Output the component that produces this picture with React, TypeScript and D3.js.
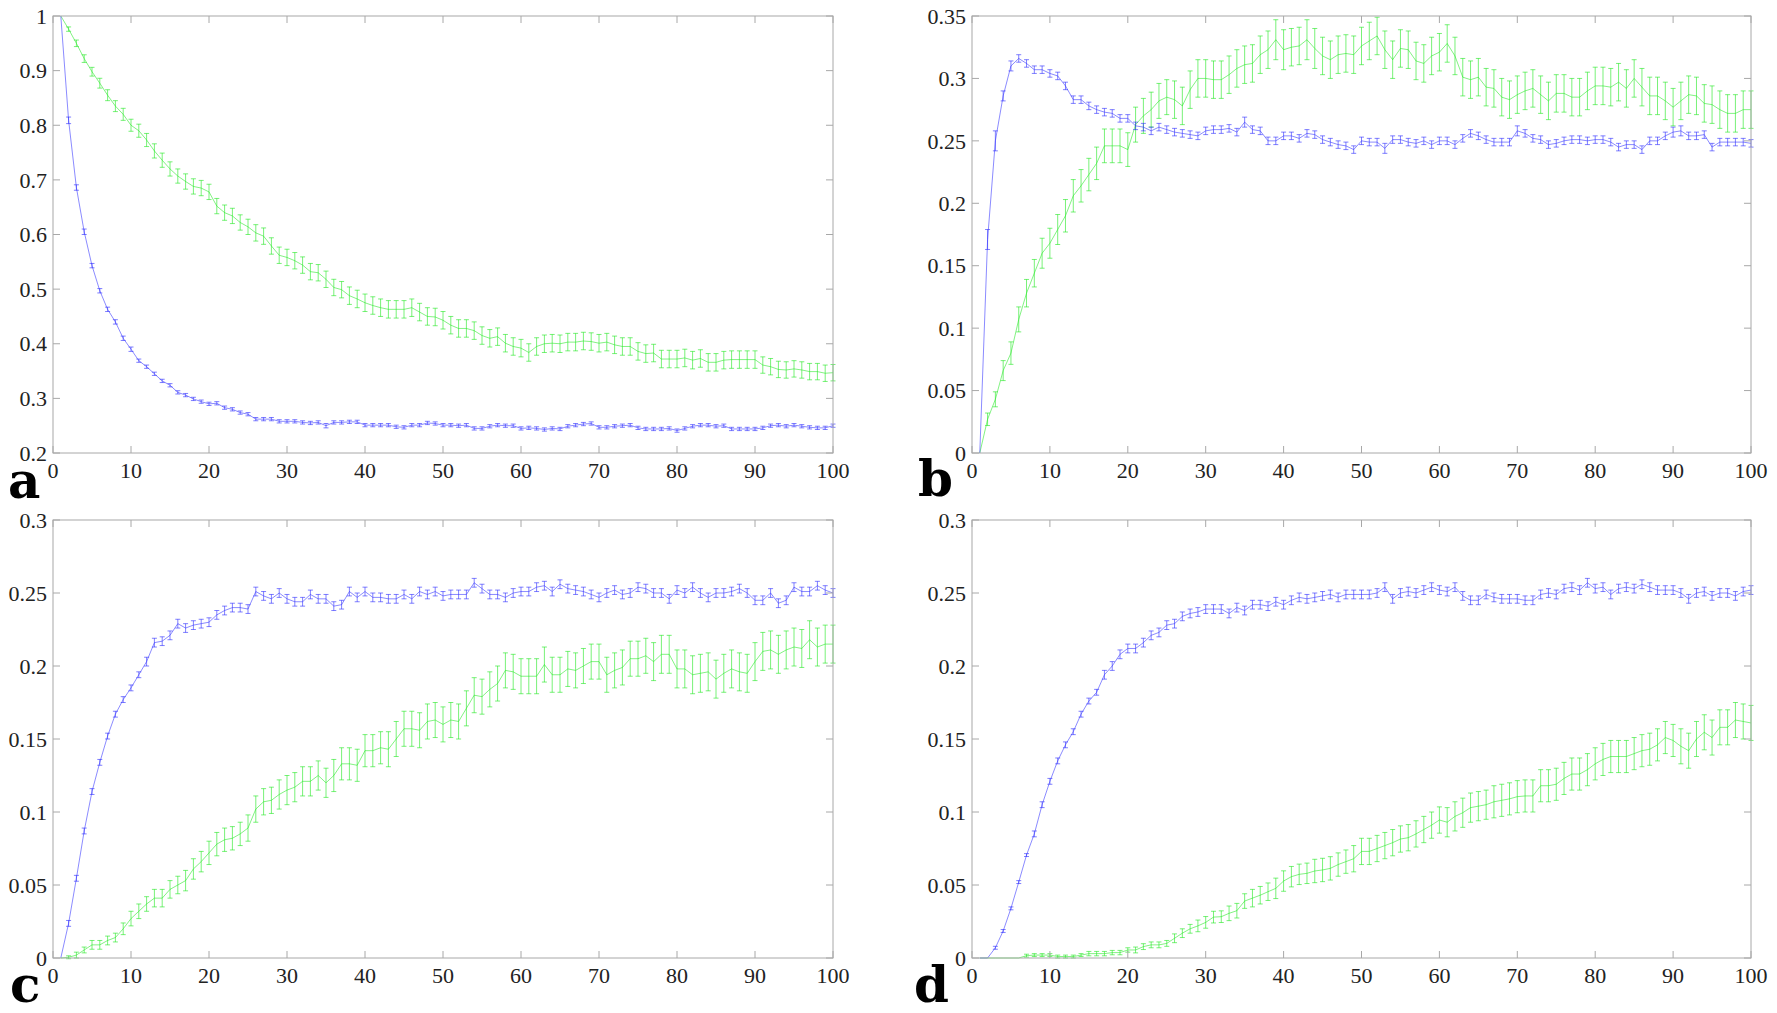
import React from "react";
import * as d3 from "d3";

// ---------- data (x = 1..100) ----------
const xSteps = d3.range(1, 101);
const xTicks = [0, 10, 20, 30, 40, 50, 60, 70, 80, 90, 100];

const aYTicks = [0.2, 0.3, 0.4, 0.5, 0.6, 0.7, 0.8, 0.9, 1];
const bYTicks = [0, 0.05, 0.1, 0.15, 0.2, 0.25, 0.3, 0.35];
const cYTicks = [0, 0.05, 0.1, 0.15, 0.2, 0.25, 0.3];
const dYTicks = [0, 0.05, 0.1, 0.15, 0.2, 0.25, 0.3];

const aGreen = [
  1.0, 0.976, 0.95, 0.922, 0.898, 0.877, 0.855, 0.835, 0.82, 0.8,
  0.79, 0.773, 0.753, 0.736, 0.72, 0.707, 0.697, 0.688, 0.685, 0.678,
  0.652, 0.64, 0.634, 0.622, 0.614, 0.603, 0.597, 0.579, 0.562, 0.558,
  0.552, 0.544, 0.532, 0.53, 0.518, 0.503, 0.499, 0.488, 0.482, 0.475,
  0.47, 0.466, 0.463, 0.463, 0.463, 0.466, 0.458, 0.45, 0.449, 0.443,
  0.434, 0.428, 0.428, 0.424, 0.415, 0.41, 0.413, 0.401, 0.395, 0.392,
  0.384, 0.395, 0.4, 0.401, 0.4, 0.403, 0.403, 0.405, 0.404, 0.401,
  0.403, 0.398, 0.395, 0.395, 0.386, 0.382, 0.383, 0.372, 0.372, 0.372,
  0.374, 0.37, 0.373, 0.366, 0.366, 0.37, 0.371, 0.371, 0.371, 0.371,
  0.361, 0.358, 0.353, 0.352, 0.354, 0.352, 0.349, 0.349, 0.346, 0.347,
];
const aGreenErr = [
  0, 0.004, 0.006, 0.007, 0.008, 0.009, 0.01, 0.01, 0.011, 0.011,
  0.012, 0.012, 0.013, 0.013, 0.013, 0.013, 0.014, 0.014, 0.014, 0.014,
  0.014, 0.014, 0.014, 0.014, 0.014, 0.015, 0.015, 0.015, 0.015, 0.015,
  0.015, 0.015, 0.015, 0.015, 0.015, 0.015, 0.015, 0.016, 0.016, 0.016,
  0.016, 0.016, 0.016, 0.016, 0.016, 0.016, 0.016, 0.016, 0.016, 0.016,
  0.016, 0.016, 0.016, 0.016, 0.016, 0.016, 0.016, 0.016, 0.016, 0.016,
  0.016, 0.016, 0.016, 0.016, 0.016, 0.016, 0.016, 0.016, 0.016, 0.016,
  0.016, 0.016, 0.016, 0.016, 0.016, 0.016, 0.016, 0.016, 0.016, 0.016,
  0.016, 0.016, 0.016, 0.016, 0.016, 0.016, 0.016, 0.016, 0.016, 0.016,
  0.015, 0.015, 0.015, 0.015, 0.015, 0.015, 0.015, 0.015, 0.015, 0.015,
];
const aBlue = [
  1.0, 0.809, 0.686, 0.605, 0.543, 0.497, 0.463, 0.44, 0.41, 0.39,
  0.369, 0.358, 0.345, 0.332, 0.324, 0.311, 0.306, 0.299, 0.294, 0.29,
  0.291, 0.283, 0.28, 0.274, 0.271, 0.262, 0.262, 0.262, 0.258, 0.258,
  0.258, 0.256, 0.255, 0.256, 0.25, 0.256, 0.256, 0.257, 0.257, 0.251,
  0.251, 0.251, 0.251, 0.248, 0.247, 0.251, 0.251, 0.255, 0.254, 0.251,
  0.251, 0.25, 0.251, 0.245, 0.245, 0.249, 0.251, 0.25, 0.25, 0.245,
  0.246, 0.245, 0.243, 0.245, 0.244, 0.249, 0.251, 0.253, 0.254, 0.247,
  0.247, 0.249, 0.25, 0.251, 0.246, 0.244, 0.244, 0.244, 0.245, 0.241,
  0.245, 0.249, 0.251, 0.251, 0.249, 0.25, 0.244, 0.244, 0.244, 0.244,
  0.246, 0.25, 0.251, 0.249, 0.251, 0.249, 0.247, 0.246, 0.246, 0.25,
];
const aBlueErr = [
  0, 0.006, 0.005, 0.005, 0.004, 0.004, 0.004, 0.004, 0.004, 0.004,
  0.003, 0.003, 0.003, 0.003, 0.003, 0.003, 0.003, 0.003, 0.003, 0.003,
  0.003, 0.003, 0.003, 0.003, 0.003, 0.003, 0.003, 0.003, 0.003, 0.003,
  0.003, 0.003, 0.003, 0.003, 0.004, 0.003, 0.003, 0.003, 0.003, 0.003,
  0.003, 0.003, 0.003, 0.003, 0.003, 0.003, 0.003, 0.003, 0.003, 0.003,
  0.003, 0.003, 0.003, 0.003, 0.003, 0.003, 0.003, 0.003, 0.003, 0.003,
  0.003, 0.003, 0.003, 0.003, 0.003, 0.003, 0.003, 0.003, 0.003, 0.003,
  0.003, 0.003, 0.003, 0.003, 0.003, 0.003, 0.003, 0.003, 0.003, 0.003,
  0.003, 0.003, 0.003, 0.003, 0.003, 0.003, 0.003, 0.003, 0.003, 0.003,
  0.003, 0.003, 0.003, 0.003, 0.003, 0.003, 0.003, 0.003, 0.003, 0.003,
];

const bBlue = [
  0, 0.171, 0.25, 0.286, 0.31, 0.316, 0.312, 0.307, 0.307, 0.304,
  0.302, 0.294, 0.283, 0.283, 0.278, 0.275, 0.273, 0.272, 0.268, 0.268,
  0.262, 0.261, 0.258, 0.261, 0.259, 0.257, 0.256, 0.255, 0.254, 0.258,
  0.259, 0.259, 0.26, 0.257, 0.265, 0.259, 0.258, 0.25, 0.25, 0.254,
  0.254, 0.252, 0.256, 0.255, 0.251, 0.249, 0.247, 0.246, 0.243, 0.25,
  0.249, 0.249, 0.244, 0.251, 0.251, 0.249, 0.248, 0.25, 0.247, 0.25,
  0.25, 0.247, 0.252, 0.256, 0.254, 0.251, 0.249, 0.249, 0.249, 0.258,
  0.256, 0.252, 0.251, 0.247, 0.248, 0.25, 0.251, 0.251, 0.25, 0.251,
  0.251, 0.249, 0.245, 0.247, 0.247, 0.243, 0.25, 0.25, 0.254, 0.257,
  0.258, 0.254, 0.254, 0.255, 0.245, 0.249, 0.249, 0.249, 0.249, 0.248,
];
const bBlueErr = [
  0, 0.008, 0.008, 0.004, 0.004, 0.003, 0.003, 0.003, 0.003, 0.003,
  0.003, 0.003, 0.003, 0.003, 0.003, 0.003, 0.003, 0.003, 0.003, 0.003,
  0.003, 0.003, 0.003, 0.003, 0.003, 0.003, 0.003, 0.003, 0.003, 0.003,
  0.003, 0.003, 0.003, 0.003, 0.004, 0.003, 0.003, 0.003, 0.003, 0.003,
  0.003, 0.003, 0.003, 0.003, 0.003, 0.003, 0.003, 0.003, 0.003, 0.003,
  0.003, 0.003, 0.004, 0.003, 0.003, 0.003, 0.003, 0.003, 0.003, 0.003,
  0.003, 0.003, 0.003, 0.003, 0.003, 0.003, 0.003, 0.003, 0.003, 0.004,
  0.003, 0.003, 0.003, 0.003, 0.003, 0.003, 0.003, 0.003, 0.003, 0.003,
  0.003, 0.003, 0.003, 0.003, 0.003, 0.003, 0.003, 0.003, 0.003, 0.004,
  0.004, 0.003, 0.003, 0.003, 0.003, 0.003, 0.003, 0.003, 0.003, 0.003,
];
const bGreen = [
  0, 0.027, 0.043, 0.066, 0.08, 0.107, 0.128, 0.144, 0.16, 0.168,
  0.179, 0.19, 0.206, 0.214, 0.223, 0.232, 0.246, 0.246, 0.246, 0.243,
  0.263, 0.27, 0.275, 0.282, 0.285, 0.283, 0.278, 0.291, 0.3, 0.3,
  0.299, 0.299, 0.303, 0.308, 0.311, 0.312, 0.319, 0.323, 0.331, 0.323,
  0.325, 0.326, 0.331, 0.324, 0.318, 0.315, 0.319, 0.32, 0.319, 0.326,
  0.33, 0.334, 0.323, 0.315, 0.324, 0.323, 0.314, 0.312, 0.318, 0.321,
  0.328, 0.318, 0.301, 0.299, 0.301, 0.293, 0.292, 0.285, 0.283, 0.287,
  0.29, 0.292, 0.287, 0.282, 0.288, 0.288, 0.285, 0.285, 0.29, 0.294,
  0.294, 0.293, 0.297, 0.292, 0.3, 0.293, 0.286, 0.286, 0.282, 0.277,
  0.282, 0.287, 0.286, 0.28, 0.279, 0.275, 0.272, 0.272, 0.275, 0.275,
];
const bGreenErr = [
  0, 0.005, 0.006, 0.008, 0.009, 0.01, 0.011, 0.011, 0.012, 0.012,
  0.012, 0.013, 0.013, 0.013, 0.013, 0.013, 0.0135, 0.0135, 0.0135, 0.0135,
  0.014, 0.014, 0.014, 0.014, 0.014, 0.015, 0.015, 0.015, 0.015, 0.015,
  0.015, 0.015, 0.015, 0.015, 0.015, 0.015, 0.015, 0.015, 0.016, 0.016,
  0.015, 0.015, 0.016, 0.016, 0.015, 0.015, 0.015, 0.015, 0.015, 0.015,
  0.015, 0.015, 0.015, 0.015, 0.015, 0.015, 0.015, 0.015, 0.015, 0.015,
  0.015, 0.015, 0.015, 0.015, 0.015, 0.015, 0.015, 0.015, 0.015, 0.015,
  0.015, 0.015, 0.015, 0.015, 0.015, 0.015, 0.015, 0.015, 0.015, 0.015,
  0.015, 0.015, 0.015, 0.015, 0.015, 0.015, 0.015, 0.015, 0.015, 0.015,
  0.015, 0.015, 0.015, 0.015, 0.015, 0.015, 0.015, 0.015, 0.015, 0.015,
];

const cBlue = [
  0, 0.0237, 0.0546, 0.087, 0.114, 0.134, 0.152, 0.167, 0.177, 0.185,
  0.194, 0.203, 0.216, 0.217, 0.221, 0.229, 0.226, 0.228, 0.229, 0.23,
  0.235, 0.238, 0.24, 0.24, 0.239, 0.251, 0.248, 0.246, 0.25, 0.246,
  0.244, 0.244, 0.249, 0.246, 0.246, 0.241, 0.242, 0.251, 0.247, 0.251,
  0.247, 0.247, 0.246, 0.246, 0.249, 0.246, 0.251, 0.249, 0.251, 0.248,
  0.249, 0.249, 0.249, 0.257, 0.253, 0.249, 0.249, 0.247, 0.25, 0.251,
  0.251, 0.254, 0.255, 0.251, 0.256, 0.253, 0.252, 0.251, 0.249, 0.247,
  0.25, 0.252, 0.249, 0.25, 0.254, 0.253, 0.25, 0.25, 0.246, 0.252,
  0.25, 0.254, 0.25, 0.247, 0.25, 0.25, 0.251, 0.253, 0.25, 0.245,
  0.245, 0.25, 0.243, 0.245, 0.254, 0.251, 0.251, 0.255, 0.252, 0.25,
];
const cBlueErr = [
  0, 0.002, 0.002, 0.002, 0.002, 0.002, 0.002, 0.002, 0.002, 0.002,
  0.002, 0.003, 0.003, 0.003, 0.003, 0.003, 0.003, 0.003, 0.003, 0.003,
  0.003, 0.003, 0.003, 0.003, 0.003, 0.003, 0.003, 0.003, 0.003, 0.003,
  0.003, 0.003, 0.003, 0.003, 0.003, 0.003, 0.003, 0.003, 0.003, 0.003,
  0.003, 0.003, 0.003, 0.003, 0.003, 0.003, 0.003, 0.003, 0.003, 0.003,
  0.003, 0.003, 0.003, 0.003, 0.003, 0.003, 0.003, 0.003, 0.003, 0.003,
  0.003, 0.003, 0.003, 0.003, 0.003, 0.003, 0.003, 0.003, 0.003, 0.003,
  0.003, 0.003, 0.003, 0.003, 0.003, 0.003, 0.003, 0.003, 0.003, 0.003,
  0.003, 0.003, 0.003, 0.003, 0.003, 0.003, 0.003, 0.003, 0.003, 0.003,
  0.003, 0.003, 0.003, 0.003, 0.003, 0.003, 0.003, 0.003, 0.003, 0.003,
];
const cGreen = [
  0, 0.0005, 0.002, 0.0055, 0.009, 0.009, 0.012, 0.014, 0.02, 0.027,
  0.032, 0.037, 0.041, 0.041, 0.047, 0.05, 0.053, 0.061, 0.066, 0.072,
  0.078, 0.081, 0.082, 0.085, 0.089, 0.102, 0.107, 0.108, 0.112, 0.115,
  0.117, 0.121, 0.121, 0.125, 0.12, 0.125, 0.133, 0.133, 0.132, 0.142,
  0.142, 0.144, 0.143, 0.15, 0.157, 0.157, 0.156, 0.162, 0.163, 0.16,
  0.163, 0.162, 0.171, 0.18, 0.179, 0.184, 0.188, 0.197, 0.196, 0.193,
  0.193, 0.193, 0.201, 0.194, 0.194, 0.198, 0.197, 0.2, 0.203, 0.203,
  0.194, 0.197, 0.199, 0.205, 0.205, 0.207, 0.203, 0.208, 0.208, 0.198,
  0.198, 0.194, 0.195, 0.196, 0.191, 0.195, 0.198, 0.196, 0.195, 0.203,
  0.21, 0.211, 0.208, 0.211, 0.213, 0.212, 0.218, 0.213, 0.215, 0.215,
];
const cGreenErr = [
  0, 0.001, 0.002, 0.002, 0.003, 0.003, 0.003, 0.003, 0.004, 0.005,
  0.005, 0.005, 0.006, 0.006, 0.006, 0.006, 0.007, 0.007, 0.007, 0.008,
  0.008, 0.008, 0.008, 0.008, 0.009, 0.009, 0.009, 0.009, 0.01, 0.01,
  0.01, 0.01, 0.01, 0.01, 0.01, 0.011, 0.011, 0.011, 0.011, 0.011,
  0.011, 0.011, 0.012, 0.012, 0.012, 0.012, 0.012, 0.012, 0.012, 0.012,
  0.012, 0.012, 0.012, 0.012, 0.012, 0.012, 0.012, 0.012, 0.012, 0.012,
  0.012, 0.012, 0.012, 0.012, 0.012, 0.012, 0.012, 0.012, 0.012, 0.012,
  0.012, 0.012, 0.012, 0.012, 0.012, 0.012, 0.013, 0.013, 0.013, 0.013,
  0.013, 0.013, 0.013, 0.013, 0.013, 0.013, 0.013, 0.013, 0.013, 0.013,
  0.013, 0.013, 0.013, 0.013, 0.013, 0.013, 0.013, 0.013, 0.013, 0.013,
];

const dBlue = [
  0, 0.0, 0.007, 0.0185, 0.034, 0.052, 0.0705, 0.085, 0.105, 0.121,
  0.135, 0.146, 0.155, 0.167, 0.176, 0.182, 0.194, 0.2, 0.208, 0.212,
  0.212, 0.216, 0.221, 0.223, 0.228, 0.229, 0.234, 0.236, 0.237, 0.239,
  0.239, 0.239, 0.236, 0.24, 0.238, 0.242, 0.242, 0.241, 0.244, 0.242,
  0.245, 0.247, 0.246, 0.247, 0.248, 0.249, 0.247, 0.249, 0.249, 0.249,
  0.249, 0.25, 0.254, 0.246, 0.25, 0.251, 0.25, 0.252, 0.254, 0.252,
  0.251, 0.254, 0.248, 0.245, 0.245, 0.249, 0.247, 0.246, 0.246, 0.246,
  0.245, 0.245, 0.249, 0.25, 0.249, 0.253, 0.254, 0.252, 0.257, 0.253,
  0.254, 0.249, 0.253, 0.254, 0.253, 0.256, 0.254, 0.252, 0.252, 0.252,
  0.25, 0.246, 0.25, 0.251, 0.248, 0.25, 0.25, 0.248, 0.251, 0.252,
];
const dBlueErr = [
  0, 0, 0.001, 0.001, 0.001, 0.001, 0.001, 0.002, 0.002, 0.002,
  0.002, 0.002, 0.002, 0.002, 0.002, 0.002, 0.003, 0.003, 0.003, 0.003,
  0.003, 0.003, 0.003, 0.003, 0.003, 0.003, 0.003, 0.003, 0.003, 0.003,
  0.003, 0.003, 0.003, 0.003, 0.003, 0.003, 0.003, 0.003, 0.003, 0.003,
  0.003, 0.003, 0.003, 0.003, 0.003, 0.003, 0.003, 0.003, 0.003, 0.003,
  0.003, 0.003, 0.003, 0.003, 0.003, 0.003, 0.003, 0.003, 0.003, 0.003,
  0.003, 0.003, 0.003, 0.003, 0.003, 0.003, 0.003, 0.003, 0.003, 0.003,
  0.003, 0.003, 0.003, 0.003, 0.003, 0.003, 0.003, 0.003, 0.003, 0.003,
  0.003, 0.003, 0.003, 0.003, 0.003, 0.003, 0.003, 0.003, 0.003, 0.003,
  0.003, 0.003, 0.003, 0.003, 0.003, 0.003, 0.003, 0.003, 0.003, 0.003,
];
const dGreen = [
  0, 0, 0, 0, 0, 0, 0.0016, 0.002, 0.002, 0.002,
  0.001, 0.001, 0.001, 0.002, 0.003, 0.003, 0.003, 0.0037, 0.0037, 0.0055,
  0.0055, 0.0078, 0.009, 0.009, 0.01, 0.0135, 0.017, 0.02, 0.022, 0.0244,
  0.028, 0.0283, 0.0306, 0.0324, 0.039, 0.041, 0.043, 0.0454, 0.0477, 0.0527,
  0.0557, 0.0573, 0.058, 0.0596, 0.0603, 0.0614, 0.064, 0.066, 0.068, 0.073,
  0.073, 0.075, 0.077, 0.079, 0.0815, 0.0824, 0.085, 0.088, 0.091, 0.0945,
  0.093, 0.097, 0.0995, 0.103, 0.104, 0.105, 0.107, 0.108, 0.109, 0.1105,
  0.111, 0.111, 0.118, 0.118, 0.119, 0.123, 0.126, 0.126, 0.129, 0.133,
  0.136, 0.138, 0.138, 0.138, 0.14, 0.142, 0.143, 0.146, 0.151, 0.149,
  0.145, 0.142, 0.15, 0.1546, 0.151, 0.158, 0.158, 0.163, 0.162, 0.161,
];
const dGreenErr = [
  0, 0, 0, 0, 0, 0, 0.001, 0.001, 0.001, 0.001,
  0.001, 0.001, 0.001, 0.001, 0.0015, 0.0015, 0.0015, 0.0015, 0.0015, 0.0015,
  0.002, 0.002, 0.002, 0.002, 0.002, 0.003, 0.003, 0.003, 0.004, 0.004,
  0.004, 0.004, 0.005, 0.005, 0.005, 0.006, 0.006, 0.006, 0.007, 0.007,
  0.007, 0.007, 0.007, 0.008, 0.008, 0.008, 0.008, 0.008, 0.009, 0.009,
  0.009, 0.009, 0.009, 0.009, 0.009, 0.009, 0.009, 0.009, 0.009, 0.009,
  0.01, 0.01, 0.01, 0.01, 0.01, 0.01, 0.011, 0.011, 0.011, 0.011,
  0.011, 0.011, 0.011, 0.011, 0.011, 0.011, 0.011, 0.011, 0.011, 0.011,
  0.011, 0.011, 0.011, 0.011, 0.011, 0.011, 0.011, 0.011, 0.011, 0.011,
  0.012, 0.012, 0.012, 0.012, 0.012, 0.012, 0.012, 0.012, 0.012, 0.012,
];

// ---------- styling ----------
const GREEN = "#1ee81e";
const BLUE = "#2b2bff";
const AXIS = "#a8a8a8";
const TICK_FONT = "Liberation Serif, Times New Roman, serif";
const LABEL_FONT = "DejaVu Serif, serif";

type Series = { values: number[]; err: number[]; color: string };

type PanelProps = {
  left: number;
  right: number;
  top: number;
  bottom: number;
  yDomain: [number, number];
  yTicks: number[];
  series: Series[];
  label: string;
  labelX: number;
  labelY: number;
};

const fmt = (v: number) => String(Math.round(v * 100) / 100);

function Panel(p: PanelProps) {
  const x = d3.scaleLinear().domain([0, 100]).range([p.left, p.right]);
  const y = d3.scaleLinear().domain(p.yDomain).range([p.bottom, p.top]);
  const line = d3
    .line<number>()
    .x((_, i) => x(xSteps[i]))
    .y((d) => y(d));
  const tl = 7;
  const cap = 2.5;
  return (
    <g>
      {p.series.map((s, si) => (
        <g key={si}>
          <path d={line(s.values) || ""} fill="none" stroke={s.color} strokeOpacity={0.55} strokeWidth={1} />
          {s.values.map((v, i) => {
            const e = s.err[i];
            if (!e) return null;
            const cx = x(xSteps[i]);
            const y1 = y(v - e);
            const y2 = y(v + e);
            return (
              <g key={i} stroke={s.color} strokeOpacity={0.6} strokeWidth={1}>
                <line x1={cx} x2={cx} y1={y1} y2={y2} />
                <line x1={cx - cap} x2={cx + cap} y1={y1} y2={y1} />
                <line x1={cx - cap} x2={cx + cap} y1={y2} y2={y2} />
              </g>
            );
          })}
        </g>
      ))}
      <rect
        x={p.left}
        y={p.top}
        width={p.right - p.left}
        height={p.bottom - p.top}
        fill="none"
        stroke={AXIS}
        strokeWidth={1}
      />
      {xTicks.map((t) => (
        <g key={"x" + t}>
          <line x1={x(t)} x2={x(t)} y1={p.bottom} y2={p.bottom - tl} stroke={AXIS} />
          <line x1={x(t)} x2={x(t)} y1={p.top} y2={p.top + tl} stroke={AXIS} />
          <text
            x={x(t)}
            y={p.bottom + 25}
            textAnchor="middle"
            style={{ fontFamily: TICK_FONT, fontSize: "22px" }}
            fill="#222"
          >
            {fmt(t)}
          </text>
        </g>
      ))}
      {p.yTicks.map((t) => (
        <g key={"y" + t}>
          <line x1={p.left} x2={p.left + tl} y1={y(t)} y2={y(t)} stroke={AXIS} />
          <line x1={p.right} x2={p.right - tl} y1={y(t)} y2={y(t)} stroke={AXIS} />
          <text
            x={p.left - 6}
            y={y(t)}
            dy="0.35em"
            textAnchor="end"
            style={{ fontFamily: TICK_FONT, fontSize: "22px" }}
            fill="#222"
          >
            {fmt(t)}
          </text>
        </g>
      ))}
      <text
        x={p.labelX}
        y={p.labelY}
        style={{ fontFamily: LABEL_FONT, fontWeight: "bold", fontSize: "50px" }}
        fill="#000"
      >
        {p.label}
      </text>
    </g>
  );
}

export default function App() {
  return (
    <svg
      width={1777}
      height={1013}
      style={{ position: "fixed", left: 0, top: 0, background: "#fff" }}
    >
      <rect x={0} y={0} width={1777} height={1013} fill="#fff" />
      <Panel
        left={53}
        right={833}
        top={16}
        bottom={453}
        yDomain={[0.2, 1]}
        yTicks={aYTicks}
        series={[
          { values: aGreen, err: aGreenErr, color: GREEN },
          { values: aBlue, err: aBlueErr, color: BLUE },
        ]}
        label="a"
        labelX={8}
        labelY={498}
      />
      <Panel
        left={972}
        right={1751}
        top={16}
        bottom={453}
        yDomain={[0, 0.35]}
        yTicks={bYTicks}
        series={[
          { values: bGreen, err: bGreenErr, color: GREEN },
          { values: bBlue, err: bBlueErr, color: BLUE },
        ]}
        label="b"
        labelX={918}
        labelY={496}
      />
      <Panel
        left={53}
        right={833}
        top={520}
        bottom={958}
        yDomain={[0, 0.3]}
        yTicks={cYTicks}
        series={[
          { values: cGreen, err: cGreenErr, color: GREEN },
          { values: cBlue, err: cBlueErr, color: BLUE },
        ]}
        label="c"
        labelX={10}
        labelY={1002}
      />
      <Panel
        left={972}
        right={1751}
        top={520}
        bottom={958}
        yDomain={[0, 0.3]}
        yTicks={dYTicks}
        series={[
          { values: dGreen, err: dGreenErr, color: GREEN },
          { values: dBlue, err: dBlueErr, color: BLUE },
        ]}
        label="d"
        labelX={914}
        labelY={1002}
      />
    </svg>
  );
}
